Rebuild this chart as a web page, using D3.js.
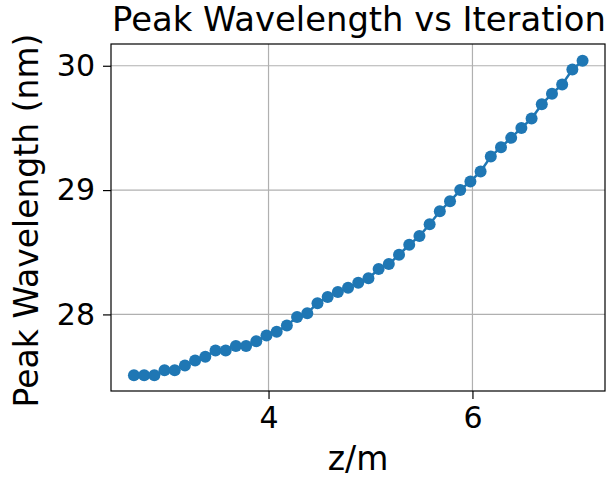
<!DOCTYPE html>
<html lang="en">
<head>
<meta charset="utf-8">
<title>Peak Wavelength vs Iteration</title>
<script src="https://d3js.org/d3.v7.min.js"></script>
<style>
  body { margin: 0; background: #fff; }
  text { font-family: "DejaVu Sans", sans-serif; fill: #000; }
</style>
</head>
<body>
<div id="chart"></div>
<script>
// data
var zValues = [2.68, 2.78, 2.88, 2.98, 3.08, 3.18, 3.28, 3.38, 3.48, 3.58,
               3.68, 3.78, 3.88, 3.98, 4.08, 4.18, 4.28, 4.38, 4.48, 4.58,
               4.68, 4.78, 4.88, 4.98, 5.08, 5.18, 5.28, 5.38, 5.48, 5.58,
               5.68, 5.78, 5.88, 5.98, 6.08, 6.18, 6.28, 6.38, 6.48, 6.58,
               6.68, 6.78, 6.88, 6.98, 7.08];
var peakWavelength = [27.51, 27.51, 27.51, 27.55, 27.55, 27.59, 27.63, 27.66, 27.71, 27.71,
                      27.745, 27.745, 27.785, 27.83, 27.86, 27.91, 27.98, 28.01, 28.09, 28.14,
                      28.18, 28.215, 28.255, 28.29, 28.365, 28.405, 28.48, 28.56, 28.63, 28.725,
                      28.83, 28.91, 29.0, 29.07, 29.15, 29.27, 29.345, 29.42, 29.5, 29.575,
                      29.69, 29.775, 29.85, 29.97, 30.04];
var xTicks = [4, 6];
var yTicks = [28, 29, 30];

var W = 610, H = 479;
var margin = {top: 44, right: 5, bottom: 88, left: 111};
var width = W - margin.left - margin.right,
    height = H - margin.top - margin.bottom;

var data = zValues.map(function(z, i) { return {z: z, w: peakWavelength[i]}; });

var svg = d3.select("#chart").append("svg")
    .attr("width", W).attr("height", H);

var g = svg.append("g")
    .attr("transform", "translate(" + margin.left + "," + margin.top + ")");

var x = d3.scaleLinear().domain([2.455, 7.30]).range([0, width]);
var y = d3.scaleLinear().domain([27.384, 30.175]).range([height, 0]);

// grid
g.append("g").selectAll("line").data(xTicks).enter().append("line")
    .attr("x1", function(d) { return x(d); }).attr("x2", function(d) { return x(d); })
    .attr("y1", 0).attr("y2", height)
    .attr("stroke", "#b0b0b0").attr("stroke-width", 1.2);
g.append("g").selectAll("line").data(yTicks).enter().append("line")
    .attr("y1", function(d) { return y(d); }).attr("y2", function(d) { return y(d); })
    .attr("x1", 0).attr("x2", width)
    .attr("stroke", "#b0b0b0").attr("stroke-width", 1.2);

// axes
var xAxis = g.append("g")
    .attr("transform", "translate(0," + height + ")")
    .call(d3.axisBottom(x).tickValues(xTicks).tickFormat(d3.format("d"))
          .tickSize(8).tickPadding(8));
var yAxis = g.append("g")
    .call(d3.axisLeft(y).tickValues(yTicks).tickFormat(d3.format("d"))
          .tickSize(8).tickPadding(8));

[xAxis, yAxis].forEach(function(a) {
  a.select(".domain").remove();
  a.selectAll("line").attr("stroke", "#000").attr("stroke-width", 1.2);
  a.selectAll("text").style("font-size", "30px").attr("fill", "#000");
});

// frame
g.append("rect")
    .attr("width", width).attr("height", height)
    .attr("fill", "none").attr("stroke", "#000").attr("stroke-width", 1.2);

// line + markers
var line = d3.line()
    .x(function(d) { return x(d.z); })
    .y(function(d) { return y(d.w); });

g.append("path").datum(data)
    .attr("d", line)
    .attr("fill", "none")
    .attr("stroke", "#1f77b4")
    .attr("stroke-width", 2.5);

g.selectAll("circle").data(data).enter().append("circle")
    .attr("cx", function(d) { return x(d.z); })
    .attr("cy", function(d) { return y(d.w); })
    .attr("r", 6)
    .attr("fill", "#1f77b4");

// title and labels
svg.append("text")
    .attr("x", margin.left + width / 2 + 1).attr("y", 31)
    .attr("text-anchor", "middle")
    .style("font-size", "33.8px")
    .text("Peak Wavelength vs Iteration");

svg.append("text")
    .attr("x", margin.left + width / 2).attr("y", 470)
    .attr("text-anchor", "middle")
    .style("font-size", "33px")
    .text("z/m");

svg.append("text")
    .attr("transform", "translate(38," + (margin.top + height / 2 + 3) + ") rotate(-90)")
    .attr("text-anchor", "middle")
    .style("font-size", "33px")
    .text("Peak Wavelength (nm)");
</script>
</body>
</html>
